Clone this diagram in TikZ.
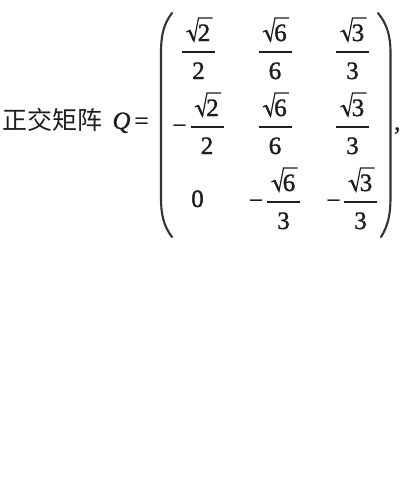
\documentclass[tikz,border=0pt]{standalone}
\usepackage{fontspec}
\setmainfont{Liberation Serif}
\newfontface\digfont{Liberation Serif}[FakeBold=1.3]
\newfontface\digitalic{Liberation Serif Italic}[FakeBold=0.8]
\newfontfamily\cjkfont{Noto Sans CJK SC}
\definecolor{ink}{HTML}{1E1E1E}
\definecolor{parencol}{HTML}{333333}
\tikzset{
  dig/.style={inner sep=0pt, text=ink, font=\digfont\fontsize{25}{30}\selectfont},
  barline/.style={draw=ink, line width=1.4pt},
  radline/.style={draw=ink, line width=1.2pt, line join=miter},
  radthick/.style={draw=ink, line width=2.3pt, line cap=butt},
  parenline/.style={draw=parencol, line width=2.1pt, line cap=round},
}
% #1 name, #2 bar centre x, #3 bar y, #4 numerator digit, #5 denominator digit
\newcommand{\rfrac}[5]{%
  \draw[barline] (#2-16.5,#3) -- (#2+16.5,#3);
  \node[dig, anchor=base] (#1n) at (#2+5.5,#3-11) {#4};
  \node[dig, anchor=base] (#1d) at (#2,#3+27) {#5};
  \draw[radline] (#2-12,#3-20) -- (#2-9,#3-21.5) -- (#2-4.5,#3-11) -- (#2,#3-34) -- (#2+14,#3-34);
  \draw[radthick] (#2-9,#3-21.5) -- (#2-4.5,#3-11.5);
}
\newcommand{\mminus}[3]{%
  \node[dig, anchor=base] (#1) at (#2,#3+6.5) {−};
}
\begin{document}
\begin{tikzpicture}[x=1pt, y=-1pt]
\useasboundingbox (0,0) rectangle (400,480);
\fill[white] (0,0) rectangle (400,480);
% left text
\node[dig, anchor=base west, font=\cjkfont\fontsize{25}{30}\selectfont] (title) at (2,129) {正交矩阵};
\node[dig, anchor=base, font=\digitalic\fontsize{25}{30}\selectfont] (Q) at (121.5,129) {Q};
\node[dig, anchor=base] (eq) at (141.5,129) {=};
% parentheses
\draw[parenline] (172,13) .. controls (163.5,24) and (161,36) .. (161,52) -- (161,198) .. controls (161,214) and (163.5,226) .. (172,237);
\draw[parenline] (378,13) .. controls (387,24) and (390.5,36) .. (390.5,52) -- (390.5,198) .. controls (390.5,214) and (388,226) .. (381,237);
% row 1
\rfrac{a11}{198.5}{52}{2}{2}
\rfrac{a12}{275}{52}{6}{6}
\rfrac{a13}{352.5}{52}{3}{3}
% row 2
\mminus{m21}{179.5}{127}
\rfrac{a21}{207}{127}{2}{2}
\rfrac{a22}{275}{127}{6}{6}
\rfrac{a23}{352.5}{127}{3}{3}
% row 3
\node[dig, anchor=base] (a31) at (197.5,207) {0};
\mminus{m32}{256}{202}
\rfrac{a32}{283.5}{202}{6}{3}
\mminus{m33}{333.5}{202}
\rfrac{a33}{360.5}{202}{3}{3}
% trailing comma
\node[dig, anchor=base west] (comma) at (394,130) {,};
\end{tikzpicture}
\end{document}
